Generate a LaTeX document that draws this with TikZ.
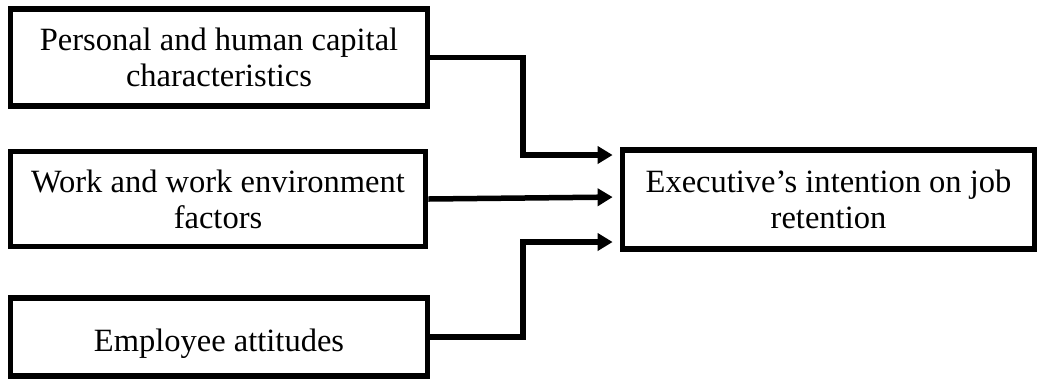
\documentclass[tikz,border=0pt]{standalone}
\usepackage{fontspec}
\setmainfont{Liberation Serif}
\usetikzlibrary{arrows.meta, positioning, calc}

\begin{document}
\begin{tikzpicture}[
        >={Triangle[length=0.3cm, width=0.34cm]},
        block/.style={rectangle, draw=black, line width=0.115cm, align=center, inner sep=0pt, font=\fontsize{18.5}{20.5}\selectfont},
        line/.style={draw, ->, line width=0.11cm, black, shorten >=0.14cm}
    ]

        \useasboundingbox (0,0) rectangle (20.9,-7.58);

        % ================= FACTORES =================
        \node[block, minimum width=8.34cm, minimum height=1.94cm] (personal) at (4.38, -1.15) {Personal and human capital\\characteristics};
        \node[block, minimum width=8.30cm, minimum height=1.90cm] (work) at (4.36, -3.98) {Work and work environment\\factors};
        \node[block, minimum width=8.34cm, minimum height=1.57cm, text height=0.7cm] (attitudes) at (4.38, -6.74) {Employee attitudes};

        % ================= RESULTADO =================
        \node[block, minimum width=8.24cm, minimum height=1.98cm] (retention) at (16.57, -3.99) {Executive's intention on job\\retention};

        \coordinate (split) at (10.46, 0);

        \path[line] (personal.east) -- (personal.east -| split) |- ([yshift=0.89cm]retention.west);
        \path[line] (work.east) -- ([yshift=0.05cm]retention.west);
        \path[line] (attitudes.east) -- (attitudes.east -| split) |- ([yshift=-0.85cm]retention.west);

    \end{tikzpicture}
\end{document}
